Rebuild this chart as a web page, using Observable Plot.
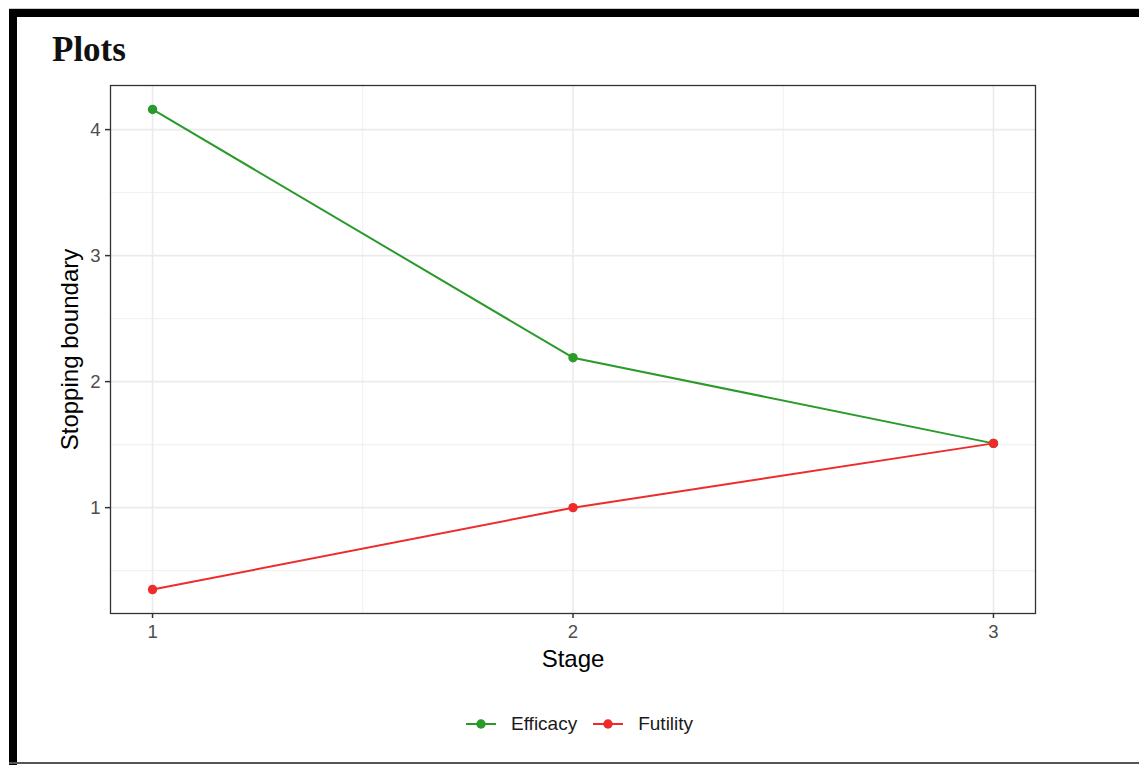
<!DOCTYPE html>
<html>
<head>
<meta charset="utf-8">
<script src="https://cdn.jsdelivr.net/npm/d3@7"></script>
<script src="https://cdn.jsdelivr.net/npm/@observablehq/plot@0.6"></script>
<style>
  html, body { margin: 0; padding: 0; background: #fff; }
  body { width: 1139px; height: 765px; position: relative; overflow: hidden; font-family: "Liberation Sans", Arial, sans-serif; }
  #chart { position: absolute; left: 0; top: 0; }
  #chart svg { background: transparent; }
  .bar-top { position: absolute; left: 9px; top: 8px; width: 1130px; height: 9px; background: #000; border-top: 1px solid #ccc; box-sizing: border-box; }
  .bar-left { position: absolute; left: 9px; top: 9px; width: 8px; height: 756px; background: #000; }
  .bar-bottom { position: absolute; left: 9px; top: 762px; width: 1130px; height: 2px; background: #555; }
  #title { position: absolute; left: 52px; top: 30px; margin: 0; font-family: "Liberation Serif", "Times New Roman", serif; font-weight: bold; font-size: 35px; line-height: 40px; color: #111; }
  #legend { position: absolute; left: 466px; top: 713px; display: flex; align-items: center; font-size: 19px; color: #1a1a1a; }
  #legend .item { display: flex; align-items: center; margin-right: 16px; }
  #legend svg { margin-right: 15px; }
</style>
</head>
<body>
<div id="chart"></div>
<div class="bar-top"></div>
<div class="bar-left"></div>
<div class="bar-bottom"></div>
<h1 id="title">Plots</h1>
<div id="legend"></div>
<script>
const stages = [1, 2, 3];
const efficacy = [4.16, 2.19, 1.51];
const futility = [0.35, 1.00, 1.51];
const seriesNames = ["Efficacy", "Futility"];
const seriesColors = ["#2a9a2a", "#ee2c2c"];
const xMajor = [1, 2, 3];
const xMinor = [1.5, 2.5];
const yMajor = [1, 2, 3, 4];
const yMinor = [0.5, 1.5, 2.5, 3.5];

const data = [
  ...stages.map((s, i) => ({stage: s, value: efficacy[i], type: seriesNames[0]})),
  ...stages.map((s, i) => ({stage: s, value: futility[i], type: seriesNames[1]}))
];

const chart = Plot.plot({
  width: 1139,
  height: 690,
  marginLeft: 110,
  marginRight: 104,
  marginTop: 85,
  marginBottom: 77,
  style: {fontFamily: "Liberation Sans, Arial, sans-serif", background: "transparent"},
  x: {domain: [0.9, 3.1]},
  y: {domain: [0.16, 4.35]},
  color: {domain: seriesNames, range: seriesColors},
  marks: [
    Plot.ruleY(yMinor, {stroke: "#ebebeb", strokeWidth: 0.8}),
    Plot.ruleX(xMinor, {stroke: "#ebebeb", strokeWidth: 0.8}),
    Plot.ruleY(yMajor, {stroke: "#ebebeb", strokeWidth: 1.6}),
    Plot.ruleX(xMajor, {stroke: "#ebebeb", strokeWidth: 1.6}),
    Plot.frame({stroke: "#333", strokeWidth: 1.3}),
    Plot.line(data, {x: "stage", y: "value", stroke: "type", z: "type", strokeWidth: 2}),
    Plot.dot(data, {x: "stage", y: "value", fill: "type", r: 4.7}),
    Plot.axisX({ticks: xMajor, tickFormat: d3.format("d"), tickSize: 5, tickPadding: 6, fontSize: 18.5, color: "#4d4d4d", stroke: "#333", strokeWidth: 1.5,
      label: "Stage", labelAnchor: "center", labelOffset: 53, labelArrow: "none"}),
    Plot.axisY({ticks: yMajor, tickFormat: d3.format("d"), tickSize: 5, tickPadding: 5, fontSize: 18.5, color: "#4d4d4d", stroke: "#333", strokeWidth: 1.5,
      label: "Stopping boundary", labelAnchor: "center", labelOffset: 50, labelArrow: "none"})
  ]
});
chart.querySelectorAll("g[aria-label='x-axis tick label'], g[aria-label='y-axis tick label']").forEach(g => {
  g.style.fontSize = "18.5px";
  g.querySelectorAll("text").forEach(t => { t.style.fontSize = "18.5px"; t.setAttribute("fill", "#4d4d4d"); });
});
chart.querySelectorAll("g[aria-label='x-axis label'] text, g[aria-label='y-axis label'] text").forEach(t => {
  t.setAttribute("fill", "#000");
  t.style.fontSize = "24px";
});
document.getElementById("chart").appendChild(chart);

const legend = document.getElementById("legend");
seriesNames.forEach((name, i) => {
  const item = document.createElement("div");
  item.className = "item";
  item.innerHTML = `<svg width="30" height="12"><line x1="0" y1="6" x2="30" y2="6" stroke="${seriesColors[i]}" stroke-width="2"/><circle cx="15" cy="6" r="4.7" fill="${seriesColors[i]}"/></svg><span>${name}</span>`;
  legend.appendChild(item);
});
</script>
</body>
</html>
